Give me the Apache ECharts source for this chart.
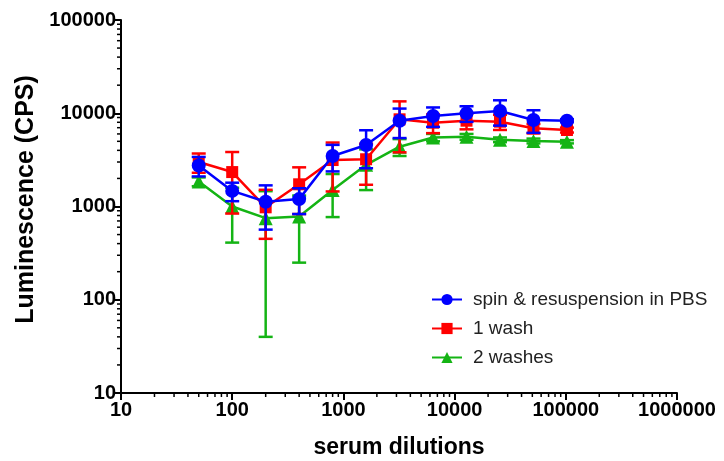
<!DOCTYPE html>
<html><head><meta charset="utf-8">
<script src="https://cdn.jsdelivr.net/npm/echarts@6/dist/echarts.min.js"></script>
<style>html,body{margin:0;padding:0;background:#fff}#c{width:724px;height:461px}</style>
</head><body><div id="c"></div>
<script>
var dilutions = [50, 100, 200, 400, 800, 1600, 3200, 6400, 12800, 25600, 51200, 102400];
var spinMean = [2750, 1470, 1125, 1200, 3480, 4570, 8320, 9340, 9980, 10570, 8470, 8320];
var spinErr  = [650, 330, 560, 370, 1100, 2000, 2900, 2200, 1900, 3200, 2300, 300];
var wash1Mean = [3000, 2340, 980, 1730, 3150, 3210, 8610, 7920, 8320, 8120, 6890, 6610];
var wash1Err  = [700, 1500, 530, 900, 1700, 1500, 4800, 1800, 1600, 1500, 800, 400];
var wash2Mean = [1850, 1000, 750, 780, 1500, 2800, 4380, 5500, 5600, 5200, 5050, 4950];
var wash2Err  = [200, 590, 710, 530, 730, 1300, 900, 500, 400, 300, 300, 200];
var xTicks = [10, 100, 1000, 10000, 100000, 1000000];
var yTicks = [10, 100, 1000, 10000, 100000];
var seriesNames = ['spin & resuspension in PBS', '1 wash', '2 washes'];
var colors = ['#0000FF', '#FF0000', '#14B414'];

function zip(m, e){ return dilutions.map(function(x,i){ return [x, m[i], e[i]]; }); }
function pts(m){ return dilutions.map(function(x,i){ return [x, m[i]]; }); }

function errRender(color){
  return function(params, api){
    var x = api.value(0), y = api.value(1), e = api.value(2);
    var top = api.coord([x, y + e]);
    var bot = api.coord([x, Math.max(y - e, 10)]);
    var w = 7, st = {stroke: color, lineWidth: 2.5};
    return {type:'group', children:[
      {type:'line', shape:{x1:top[0], y1:top[1], x2:bot[0], y2:bot[1]}, style:st},
      {type:'line', shape:{x1:top[0]-w, y1:top[1], x2:top[0]+w, y2:top[1]}, style:st},
      {type:'line', shape:{x1:bot[0]-w, y1:bot[1], x2:bot[0]+w, y2:bot[1]}, style:st}
    ]};
  };
}

var xMinor = [], yMinor = [];
for (var d = 10; d < 1000000; d *= 10) for (var k = 2; k <= 9; k++) xMinor.push([k*d, 10]);
for (var d2 = 10; d2 < 100000; d2 *= 10) for (var k2 = 2; k2 <= 9; k2++) yMinor.push([10, k2*d2]);

function xMinorRender(params, api){
  var p = api.coord([api.value(0), api.value(1)]);
  return {type:'line', shape:{x1:p[0], y1:p[1], x2:p[0], y2:p[1]+4}, style:{stroke:'#000', lineWidth:1.5}};
}
function yMinorRender(params, api){
  var p = api.coord([api.value(0), api.value(1)]);
  return {type:'line', shape:{x1:p[0], y1:p[1], x2:p[0]-4, y2:p[1]}, style:{stroke:'#000', lineWidth:1.5}};
}

var sym = ['circle', 'rect', 'triangle'];
var means = [spinMean, wash1Mean, wash2Mean];
var errs = [spinErr, wash1Err, wash2Err];
var series = [];
[2,1,0].forEach(function(i, order){
  series.push({type:'custom', name: seriesNames[i] + ' err', renderItem: errRender(colors[i]),
    data: zip(means[i], errs[i]), z: 2 + order*2, clip:false, silent:true});
  series.push({type:'line', name: seriesNames[i], data: pts(means[i]), z: 3 + order*2,
    symbol: sym[i], symbolSize: i===1 ? 12 : 14, showAllSymbol:true,
    lineStyle:{color: colors[i], width: 2.5}, itemStyle:{color: colors[i]}});
});
series.push({type:'custom', renderItem: xMinorRender, data: xMinor, clip:false, silent:true, z:1});
series.push({type:'custom', renderItem: yMinorRender, data: yMinor, clip:false, silent:true, z:1});

var chart = echarts.init(document.getElementById('c'));
chart.setOption({
  animation:false,
  textStyle:{fontFamily:'Liberation Sans, Arial, sans-serif'},
  grid:{left:121, right:47, top:20, bottom:68, outerBoundsMode:'none', containLabel:false},
  legend:{
    data: seriesNames, orient:'vertical', left:426, top:285, itemGap:10,
    itemWidth:30, itemHeight:14,
    textStyle:{fontSize:19, color:'#222', padding:[0,0,0,6], fontFamily:'Liberation Sans, Arial, sans-serif'}
  },
  xAxis:{
    type:'log', logBase:10, min:10, max:1000000,
    name:'serum dilutions', nameLocation:'middle', nameGap:43,
    nameTextStyle:{fontSize:23, fontWeight:'bold', color:'#000'},
    axisLine:{lineStyle:{color:'#000', width:2}},
    axisTick:{lineStyle:{color:'#000', width:2}, length:7},
    axisLabel:{fontSize:20, fontWeight:'bold', color:'#000', margin:7,
      formatter:function(v){ return String(Math.round(v)); }},
    splitLine:{show:false}
  },
  yAxis:{
    type:'log', logBase:10, min:10, max:100000,
    name:'Luminescence (CPS)', nameLocation:'middle', nameGap:79, nameRotate:90,
    nameTextStyle:{fontSize:25, fontWeight:'bold', color:'#000', padding:[0,0,0,14]},
    axisLine:{lineStyle:{color:'#000', width:2}},
    axisTick:{lineStyle:{color:'#000', width:2}, length:8},
    axisLabel:{fontSize:20, fontWeight:'bold', color:'#000', margin:5,
      formatter:function(v){ return String(Math.round(v)); }},
    splitLine:{show:false}
  },
  series: series
});
</script></body></html>
